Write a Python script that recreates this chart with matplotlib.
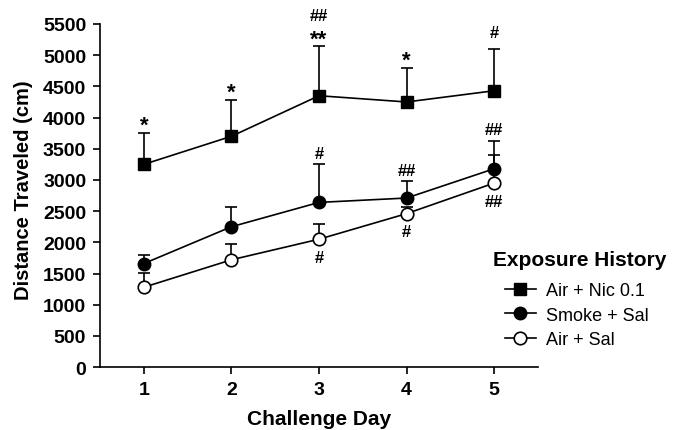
import numpy as np
import matplotlib.pyplot as plt

plt.rcParams['font.family'] = ['Liberation Sans', 'DejaVu Sans']

days = [1, 2, 3, 4, 5]

# Air + Nic 0.1
nic_mean = [3250, 3700, 4350, 4250, 4430]
nic_err = [500, 580, 790, 550, 670]
# Smoke + Sal
smk_mean = [1660, 2250, 2640, 2710, 3180]
smk_err = [140, 320, 610, 270, 450]
# Air + Sal
sal_mean = [1280, 1720, 2050, 2460, 2950]
sal_err = [230, 250, 250, 100, 450]

# significance marks (text, day, value)
nic_stars = [('*', 1, 3750), ('*', 2, 4280), ('**', 3, 5140), ('*', 4, 4800)]
nic_hash = [('##', 3, 5140, 22), ('#', 5, 5100, 12)]
smk_marks = [('#', 3, 3250), ('##', 4, 2980), ('##', 5, 3630)]
sal_marks = [('#', 3, 2050), ('#', 4, 2460), ('##', 5, 2950)]

fig = plt.figure(figsize=(6.81, 4.31), dpi=100)
ax = fig.add_axes([0.147, 0.146, 0.643, 0.796])

lw = 1.2
ax.errorbar(days, nic_mean, yerr=[np.zeros(5), nic_err], color='black', lw=lw,
            marker='s', ms=9, mfc='black', mec='black', capsize=4, capthick=lw,
            elinewidth=lw, label='Air + Nic 0.1', zorder=3)
ax.errorbar(days, smk_mean, yerr=[np.zeros(5), smk_err], color='black', lw=lw,
            marker='o', ms=9, mfc='black', mec='black', capsize=4, capthick=lw,
            elinewidth=lw, label='Smoke + Sal', zorder=3)
ax.errorbar(days, sal_mean, yerr=[np.zeros(5), sal_err], color='black', lw=lw,
            marker='o', ms=9, mfc='white', mec='black', mew=lw, capsize=4, capthick=lw,
            elinewidth=lw, label='Air + Sal', zorder=4)

# marks above / below the error bars
for txt, d, v in nic_stars:
    ax.annotate(txt, (d, v), xytext=(0, 1.5), textcoords='offset points',
                ha='center', va='baseline', fontsize=16, fontweight='bold')
for txt, d, v, off in nic_hash:
    ax.annotate(txt, (d, v), xytext=(0, off), textcoords='offset points',
                ha='center', va='center', fontsize=12, fontweight='bold')
for txt, d, v in smk_marks:
    ax.annotate(txt, (d, v), xytext=(0, 8), textcoords='offset points',
                ha='center', va='center', fontsize=12, fontweight='bold')
for txt, d, v in sal_marks:
    ax.annotate(txt, (d, v), xytext=(0, -13), textcoords='offset points',
                ha='center', va='center', fontsize=12, fontweight='bold')

ax.set_xlim(0.5, 5.5)
ax.set_ylim(0, 5500)
ax.set_xticks(days)
ax.set_yticks(np.arange(0, 5501, 500))
ax.spines['top'].set_visible(False)
ax.spines['right'].set_visible(False)
ax.spines['left'].set_linewidth(lw)
ax.spines['bottom'].set_linewidth(lw)
ax.tick_params(direction='out', length=5, width=lw, labelsize=14, pad=5)
for lab in ax.get_xticklabels() + ax.get_yticklabels():
    lab.set_fontweight('bold')

ax.set_xlabel('Challenge Day', fontsize=15, fontweight='bold', labelpad=8)
ax.set_ylabel('Distance Traveled (cm)', fontsize=14.5, fontweight='bold')
ax.yaxis.set_label_coords(-0.153, 0.519)

fig.text(493 / 681, 1 - 260 / 431, 'Exposure History', fontsize=15, fontweight='bold',
         ha='left', va='center')
handles, labels = ax.get_legend_handles_labels()
handles = [h[0] for h in handles]
leg = fig.legend(handles, labels, loc='upper left', bbox_to_anchor=(505 / 681, 1 - 283 / 431),
                 frameon=False, fontsize=13, borderpad=0, borderaxespad=0,
                 handlelength=1.7, handletextpad=0.55, labelspacing=0.42)

fig.savefig('out.png', dpi=100)
